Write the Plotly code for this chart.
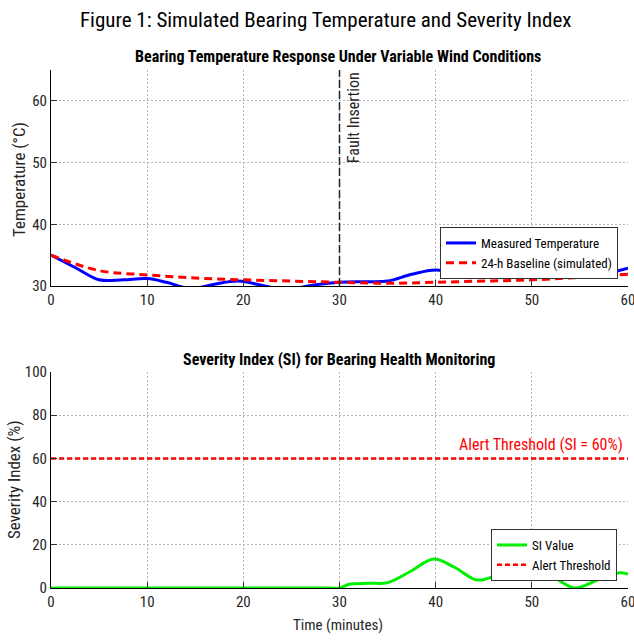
import plotly.graph_objects as go

# ---------------- data ----------------
temp_t = [0, 2.5, 5, 7.5, 10, 12, 14.5, 17, 19.5, 22, 24.5, 27, 30, 32.5, 35, 37.5, 40,
          42.5, 44.5, 47, 50, 52.5, 54.5, 57, 60]
temp_measured = [35.0, 33.0, 31.0, 31.0, 31.2, 30.6, 29.6, 30.3, 30.8, 30.1, 29.4, 30.1, 30.6,
                 30.7, 30.8, 31.9, 32.6, 32.0, 31.4, 32.0, 32.4, 32.0, 31.4, 31.8, 32.9]

base_t = [0, 5, 10, 15, 20, 25, 30, 35, 40, 45, 50, 55, 60]
temp_baseline = [35.0, 32.5, 31.8, 31.3, 31.0, 30.8, 30.6, 30.45, 30.6, 30.8, 31.0, 31.4, 31.9]

si_t = [0, 15, 29, 30, 31, 33, 35, 37.5, 39.8, 42, 44.3, 46.5, 49, 51.5, 53, 54.5, 57, 59, 60]
si_value = [0, 0, 0, 0, 1.7, 2.2, 2.5, 8.0, 13.4, 9.5, 3.7, 6.0, 8.5, 7.5, 3.0, 0.0, 4.0, 7.0, 6.5]

threshold_t = [0, 60]
threshold_value = [60, 60]
fault_time = 30

x_ticks = [0, 10, 20, 30, 40, 50, 60]
temp_ticks = [30, 40, 50, 60]
si_ticks = [0, 20, 40, 60, 80, 100]

FONT = "Roboto Condensed, Liberation Sans, Arial, sans-serif"

fig = go.Figure()

fig.add_trace(go.Scatter(x=temp_t, y=temp_measured, mode="lines", name="Measured Temperature",
                         line=dict(color="#0000ff", width=3, shape="spline"),
                         xaxis="x", yaxis="y", legend="legend"))
fig.add_trace(go.Scatter(x=base_t, y=temp_baseline, mode="lines", name="24-h Baseline (simulated)",
                         line=dict(color="#ff0000", width=3, dash="8px,5px", shape="spline"),
                         xaxis="x", yaxis="y", legend="legend"))
fig.add_trace(go.Scatter(x=si_t, y=si_value, mode="lines", name="SI Value",
                         line=dict(color="#00ee00", width=3, shape="spline"),
                         xaxis="x2", yaxis="y2", legend="legend2"))
fig.add_trace(go.Scatter(x=threshold_t, y=threshold_value, mode="lines", name="Alert Threshold",
                         line=dict(color="#ff0000", width=2.5, dash="5px,3px"),
                         xaxis="x2", yaxis="y2", legend="legend2"))

axis_common = dict(
    showline=True, linecolor="black", linewidth=1, mirror=False,
    ticks="inside", ticklen=6, tickcolor="#333333", tickwidth=1,
    showgrid=True, gridcolor="#b4b4b4", gridwidth=1, griddash="2px,2px",
    zeroline=False, ticklabeloverflow="allow", automargin=False,
    tickfont=dict(family=FONT, size=15, color="#262626"),
)

fig.update_layout(
    width=634, height=642,
    margin=dict(l=51, r=6, t=70, b=54, autoexpand=False),
    paper_bgcolor="white", plot_bgcolor="white",
    font=dict(family=FONT, color="black"),
    xaxis=dict(domain=[0, 1], range=[0, 60], tickvals=x_ticks, anchor="y", **axis_common),
    yaxis=dict(domain=[0.583, 1], range=[30, 65], tickvals=temp_ticks, anchor="x", **axis_common),
    xaxis2=dict(domain=[0, 1], range=[0, 60], tickvals=x_ticks, anchor="y2", **axis_common),
    yaxis2=dict(domain=[0, 0.417], range=[0, 100], tickvals=si_ticks, anchor="x2", **axis_common),
    legend=dict(x=(618 - 51) / 577, y=(588 - 227) / 518, xanchor="right", yanchor="top",
                bgcolor="white", bordercolor="#333333", borderwidth=1,
                font=dict(family=FONT, size=13, color="black"), tracegroupgap=0),
    legend2=dict(x=(617 - 51) / 577, y=(588 - 529) / 518, xanchor="right", yanchor="top",
                 bgcolor="white", bordercolor="#333333", borderwidth=1,
                 font=dict(family=FONT, size=13, color="black"), tracegroupgap=0),
    showlegend=True,
)

# fault insertion line
fig.add_shape(type="line", xref="x", yref="y domain", x0=fault_time, x1=fault_time, y0=0, y1=1,
              line=dict(color="#222222", width=1.5, dash="8px,3px"), layer="above")

annotations = [
    dict(text="Figure 1: Simulated Bearing Temperature and Severity Index", xref="paper", yref="paper",
         x=(325 - 51) / 577, y=(588 - 20) / 518, xanchor="center", yanchor="middle", showarrow=False,
         font=dict(family=FONT, size=21, color="black")),
    dict(text="<b>Bearing Temperature Response Under Variable Wind Conditions</b>", xref="paper",
         yref="paper", x=(338 - 51) / 577, y=(588 - 57) / 518, xanchor="center", yanchor="middle",
         showarrow=False, font=dict(family=FONT, size=16, color="black")),
    dict(text="<b>Severity Index (SI) for Bearing Health Monitoring</b>", xref="paper",
         yref="paper", x=(339 - 51) / 577, y=(588 - 359) / 518, xanchor="center", yanchor="middle",
         showarrow=False, font=dict(family=FONT, size=16, color="black")),
    dict(text="Temperature (°C)", xref="paper", yref="paper", x=(19 - 51) / 577, y=(588 - 180) / 518,
         xanchor="center", yanchor="middle", textangle=-90, showarrow=False,
         font=dict(family=FONT, size=17, color="#262626")),
    dict(text="Severity Index (%)", xref="paper", yref="paper", x=(14 - 51) / 577, y=(588 - 480) / 518,
         xanchor="center", yanchor="middle", textangle=-90, showarrow=False,
         font=dict(family=FONT, size=17, color="#262626")),
    dict(text="Time (minutes)", xref="paper", yref="paper", x=(338 - 51) / 577, y=(588 - 625) / 518,
         xanchor="center", yanchor="middle", showarrow=False,
         font=dict(family=FONT, size=15, color="#262626")),
    dict(text="Fault Insertion", xref="x", yref="y", x=fault_time, y=57.2, xanchor="left",
         yanchor="middle", xshift=2, textangle=-90, showarrow=False,
         font=dict(family=FONT, size=16, color="#262626")),
    dict(text="Alert Threshold (SI = 60%)", xref="x2", yref="y2", x=60, y=60, xanchor="right",
         yanchor="bottom", xshift=-3, yshift=2, showarrow=False,
         font=dict(family=FONT, size=16, color="#ff0000")),
]
fig.update_layout(annotations=annotations)

fig.write_html("out.html")
